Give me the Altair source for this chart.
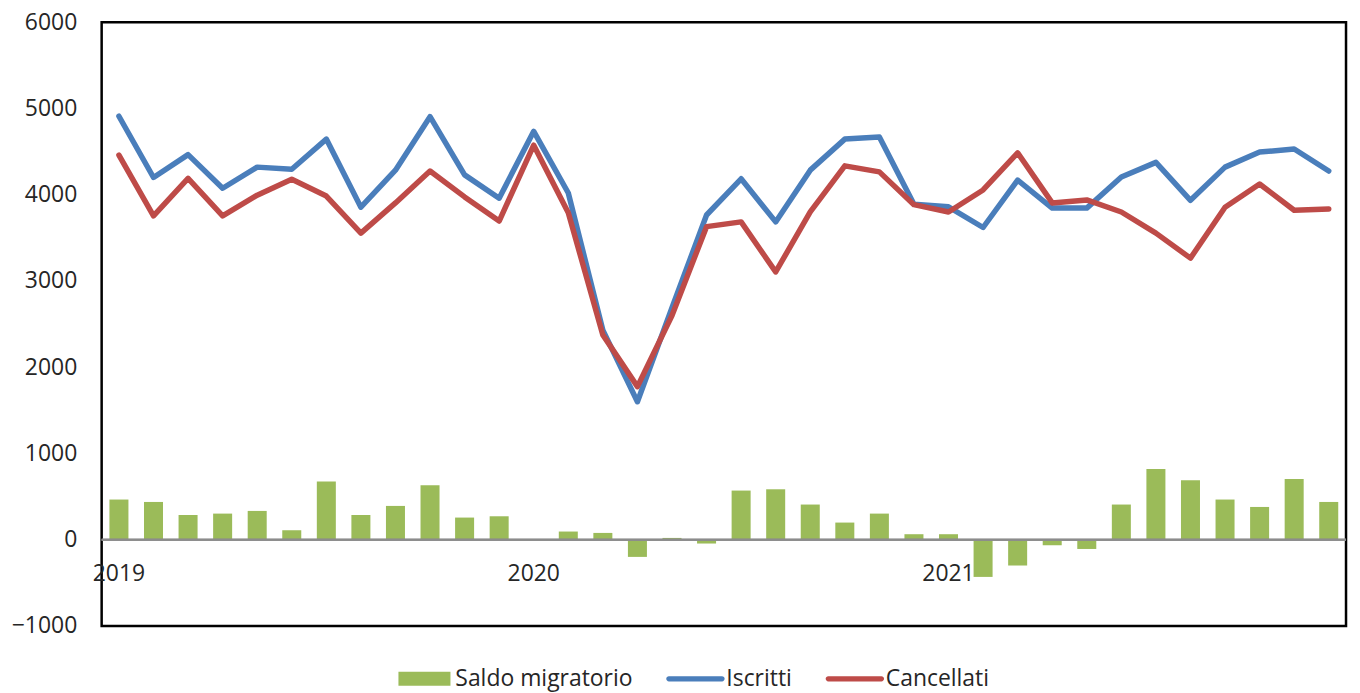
import altair as alt
import pandas as pd

mesi = [f"{y}-{m:02d}" for y in (2019, 2020, 2021) for m in range(1, 13)]

iscritti = [4910, 4200, 4465, 4075, 4320, 4295, 4645, 3855, 4285, 4905, 4230, 3960,
            4735, 4020, 2430, 1600, 2690, 3765, 4185, 3685, 4285, 4645, 4670, 3890,
            3860, 3620, 4170, 3845, 3845, 4205, 4375, 3935, 4320, 4495, 4530, 4275]
cancellati = [4460, 3755, 4190, 3755, 3995, 4180, 3985, 3555, 3905, 4275, 3975, 3695,
              4575, 3790, 2375, 1775, 2600, 3630, 3685, 3105, 3800, 4335, 4265, 3885,
              3800, 4055, 4485, 3905, 3940, 3800, 3555, 3265, 3855, 4125, 3820, 3835]
saldo = [466, 438, 287, 303, 334, 110, 674, 287, 392, 631, 257, 272,
         0, 95, 79, -199, 21, -44, 570, 585, 408, 199, 303, 64,
         64, -431, -299, -64, -107, 408, 820, 690, 466, 380, 705, 438]

serie = ["Saldo migratorio", "Iscritti", "Cancellati"]
colori = ["#9BBB59", "#4A7EBB", "#BE4B48"]

anni = ["2019", "2020", "2021"]
anni_pos = ["2019-01", "2020-01", "2021-01"]

FONT = "Open Sans"
TXT = "#262626"
FS = 23

df = pd.DataFrame({
    "mese": mesi * 3,
    "serie": [serie[0]] * 36 + [serie[1]] * 36 + [serie[2]] * 36,
    "valore": saldo + iscritti + cancellati,
})
df_anni = pd.DataFrame({"mese": anni_pos, "anno": anni, "zero": [0, 0, 0]})

xenc = alt.X("mese:O", sort=mesi, axis=None,
             scale=alt.Scale(paddingInner=0.45, paddingOuter=0.225))
yscale = alt.Scale(domain=[-1000, 6000], nice=False)
yenc = alt.Y("valore:Q", scale=yscale, title=None,
             axis=alt.Axis(values=list(range(-1000, 6001, 1000)), grid=False, ticks=False,
                           domain=False, format="d", labelFont=FONT, labelFontSize=FS,
                           labelColor=TXT, labelPadding=25))

shape_expr = ("datum.value === 'Saldo migratorio' ? 'M-0.9,-0.24H0.9V0.24H-0.9Z' : "
              "'M-0.92,-0.09H0.92A0.09,0.09,0,0,1,0.92,0.09H-0.92A0.09,0.09,0,0,1,-0.92,-0.09Z'")

color = alt.Color("serie:N", scale=alt.Scale(domain=serie, range=colori),
                  legend=alt.Legend(orient="none", legendX=295, legendY=630, direction="horizontal",
                                    title=None, symbolSize=3364, labelFont=FONT, labelFontSize=FS,
                                    labelColor=TXT, columnPadding=33, labelOffset=2, padding=0,
                                    labelLimit=0, symbolStrokeWidth=0, symbolOpacity=1,
                                    symbolType={"expr": shape_expr},
                                    symbolFillColor={"expr": "scale('color', datum.value)"}))

base = alt.Chart(df)

bars = base.transform_filter(alt.datum.serie == "Saldo migratorio").mark_bar().encode(
    x=xenc, y=yenc, color=color)

zero = alt.Chart(df_anni).mark_rule(color="#8C8C8C", strokeWidth=2).encode(
    y=alt.Y("zero:Q", scale=yscale))

lines = base.transform_filter(alt.datum.serie != "Saldo migratorio").mark_line(
    strokeWidth=5.5, strokeJoin="round", strokeCap="round").encode(
    x=xenc, y=yenc, color=color, detail="serie:N")

labels = alt.Chart(df_anni).mark_text(font=FONT, fontSize=FS, color=TXT, dy=34,
                                      baseline="middle", align="center").encode(
    x=alt.X("mese:O", sort=mesi, axis=None), y=alt.Y("zero:Q", scale=yscale), text="anno:N")

chart = alt.layer(bars, zero, lines, labels).properties(
    width=1249, height=606, background="white",
    padding={"left": 3, "top": 2, "right": 5, "bottom": 5}
).configure_view(stroke="black", strokeWidth=2.5)

chart.save("out.html", embed_options={"renderer": "svg", "actions": False})
